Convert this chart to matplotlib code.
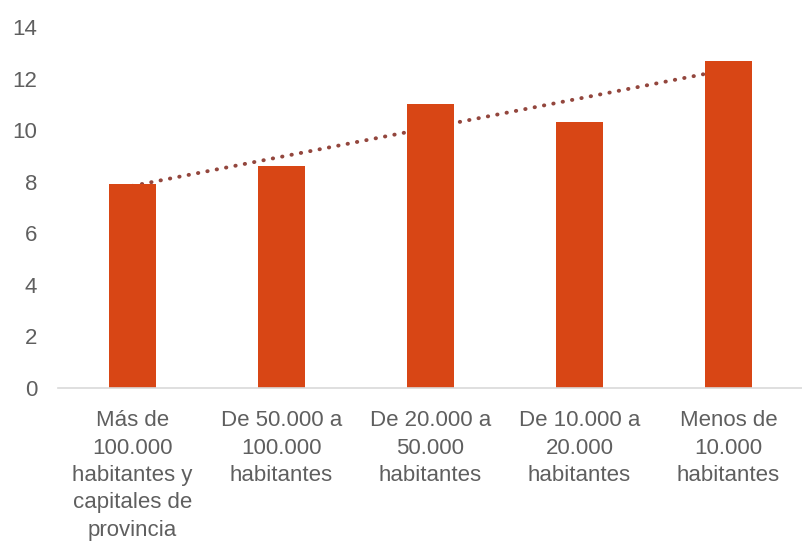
import numpy as np
import matplotlib
matplotlib.use("Agg")
import matplotlib.pyplot as plt

plt.rcParams["font.family"] = ["Liberation Sans", "DejaVu Sans"]

categories = [
    "Más de\n100.000\nhabitantes y\ncapitales de\nprovincia",
    "De 50.000 a\n100.000\nhabitantes",
    "De 20.000 a\n50.000\nhabitantes",
    "De 10.000 a\n20.000\nhabitantes",
    "Menos de\n10.000\nhabitantes",
]
values = [7.9, 8.6, 11.0, 10.3, 12.7]
y_ticks = [0, 2, 4, 6, 8, 10, 12, 14]

BAR_COLOR = "#D84615"
TREND_COLOR = "#93463D"
TEXT_COLOR = "#5F5F5F"

fig = plt.figure(figsize=(8.03, 5.41), dpi=100)
ax = fig.add_axes([0.0722, 0.2828, 0.9278, 0.6672])

x = np.arange(len(categories))

# linear trendline, drawn under the bars
slope, intercept = np.polyfit(x, values, 1)
ax.plot(x, slope * x + intercept, color=TREND_COLOR, linewidth=2.8,
        linestyle=(0, (0.1, 2.35)), dash_capstyle="round", zorder=1)

ax.bar(x, values, width=0.31, color=BAR_COLOR, zorder=2)

ax.set_xlim(-0.5, len(categories) - 0.5)
ax.set_ylim(0, 14)
ax.set_yticks(y_ticks)
ax.set_xticks(x)
ax.set_xticklabels(categories, linespacing=1.4, fontsize=16.8)

for s in ["top", "right", "left"]:
    ax.spines[s].set_visible(False)
ax.spines["bottom"].set_color("#D9D9D9")
ax.spines["bottom"].set_linewidth(1.2)

ax.tick_params(axis="both", length=0, labelsize=16, labelcolor=TEXT_COLOR)
ax.tick_params(axis="y", pad=15)
ax.tick_params(axis="x", pad=16)

fig.savefig("out.png", dpi=100)
